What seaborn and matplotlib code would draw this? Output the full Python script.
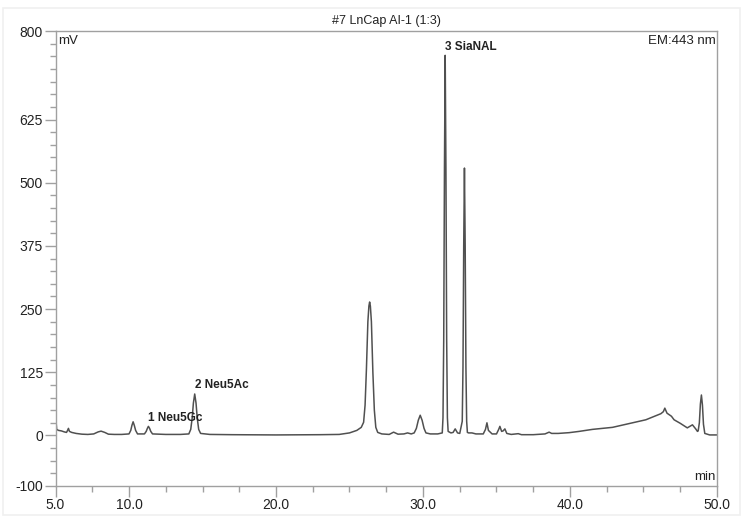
import numpy as np
import pandas as pd
import matplotlib
matplotlib.use("Agg")
import matplotlib.pyplot as plt
import seaborn as sns
from matplotlib.ticker import FixedLocator, MultipleLocator, FixedFormatter
from matplotlib.patches import Rectangle

# ---- data (time in min, signal in mV) ----
time_min = [
    5.00, 5.03, 5.08, 5.20, 5.40, 5.60, 5.75, 5.82, 5.88, 5.95, 6.10, 6.40, 6.80,
    7.20, 7.60, 7.90, 8.10, 8.35, 8.60, 9.00, 9.50, 10.00, 10.12, 10.20, 10.28,
    10.36, 10.45, 10.58, 10.90, 11.05, 11.17, 11.25, 11.32, 11.40, 11.48, 11.60,
    12.50, 13.50, 14.07, 14.20, 14.30, 14.38, 14.47, 14.56, 14.64, 14.74, 14.87,
    15.50, 17.00, 20.00, 23.00, 24.30, 25.00, 25.50, 25.80, 25.96, 26.06, 26.15,
    26.25, 26.32, 26.37, 26.42, 26.49, 26.59, 26.69, 26.79, 26.92, 27.20, 27.70,
    28.00, 28.30, 28.70, 28.95, 29.20, 29.40, 29.55, 29.68, 29.81, 29.94, 30.07,
    30.20, 30.50, 31.00, 31.31, 31.36, 31.41, 31.46, 31.51, 31.56, 31.61, 31.66,
    31.71, 31.90, 32.05, 32.19, 32.35, 32.50, 32.67, 32.72, 32.77, 32.82, 32.87,
    32.92, 32.97, 33.02, 33.10, 33.33, 33.60, 34.10, 34.25, 34.35, 34.45, 34.70,
    35.00, 35.15, 35.23, 35.35, 35.45, 35.57, 35.70, 36.00, 36.48, 36.70, 37.50,
    38.30, 38.58, 38.75, 39.20, 39.94, 40.62, 41.53, 42.89, 44.25, 45.16, 46.18,
    46.35, 46.45, 46.60, 46.90, 47.08, 47.50, 47.98, 48.33, 48.55, 48.67, 48.72,
    48.80, 48.87, 48.94, 49.01, 49.08, 49.17, 49.50, 50.00,
]
signal_mv = [
    55, 30, 12, 10, 9, 7, 6, 10, 14, 8, 6, 4, 2.5,
    2, 3, 7, 8.5, 6, 2.5, 2, 2, 3, 10, 20, 27,
    20, 10, 3, 3, 3, 8, 14, 18, 14, 8, 3,
    2, 2, 3, 12, 35, 64, 82, 64, 35, 12, 4,
    2, 1.5, 1, 1.5, 2, 5, 10, 16, 26, 60, 130,
    225, 256, 264, 256, 225, 125, 50, 16, 6, 3, 2,
    6.5, 2.5, 3, 5, 3, 5, 14, 30, 40, 30, 14,
    5, 3, 3, 5, 35, 190, 530, 752, 530, 190, 35,
    8, 5, 6, 13, 5, 4, 28, 135, 375, 529, 375,
    135, 28, 6, 5, 5, 3, 3, 12, 25, 10, 3,
    3, 12, 18, 8, 9, 13, 4, 2, 3.5, 1.5, 1.5,
    3, 6.5, 4, 4, 5.5, 8, 12, 16, 25, 31, 43,
    47, 54, 44, 38, 31, 24, 15, 21, 13, 8, 9,
    25, 62, 80, 60, 22, 4, 1, 1,
]

x_tick_values = [5, 10, 20, 30, 40, 50]
x_tick_labels = ["5.0", "10.0", "20.0", "30.0", "40.0", "50.0"]
y_tick_values = [-100, 0, 125, 250, 375, 500, 625, 800]
y_tick_labels = ["-100", "0", "125", "250", "375", "500", "625", "800"]

peak_names = ["1 Neu5Gc", "2 Neu5Ac", "3 SiaNAL"]
peak_times = [11.32, 14.47, 31.51]
peak_heights = [18, 82, 752]

title = "#7 LnCap AI-1 (1:3)"

df = pd.DataFrame({"time": time_min, "signal": signal_mv})

# ---- figure ----
sns.set_theme(style="ticks")
plt.rcParams["font.family"] = ["Liberation Sans", "DejaVu Sans"]

fig = plt.figure(figsize=(7.43, 5.18), dpi=100)
ax = fig.add_axes([0.0747, 0.0618, 0.8903, 0.8782])

sns.lineplot(data=df, x="time", y="signal", ax=ax, color="#505050",
             linewidth=1.1, sort=False, estimator=None)

ax.set_xlim(5, 50)
ax.set_ylim(-100, 800)

ax.xaxis.set_major_locator(FixedLocator(x_tick_values))
ax.xaxis.set_major_formatter(FixedFormatter(x_tick_labels))
ax.xaxis.set_minor_locator(MultipleLocator(2.5))
ax.yaxis.set_major_locator(FixedLocator(y_tick_values))
ax.yaxis.set_major_formatter(FixedFormatter(y_tick_labels))
ax.yaxis.set_minor_locator(MultipleLocator(25))

spine_col = "#a0a0a0"
for s in ax.spines.values():
    s.set_visible(True)
    s.set_color(spine_col)
    s.set_linewidth(1.0)

ax.tick_params(axis="both", which="major", direction="out", length=8,
               width=1.0, color=spine_col, labelsize=10, labelcolor="#222222", pad=1)
ax.tick_params(axis="both", which="minor", direction="out", length=4,
               width=1.0, color=spine_col)
ax.set_xlabel("")
ax.set_ylabel("")

ax.set_title(title, fontsize=9, color="#222222", pad=5)

ax.text(0.004, 0.992, "mV", transform=ax.transAxes, ha="left", va="top",
        fontsize=9.5, color="#222222")
ax.text(0.998, 0.992, "EM:443 nm", transform=ax.transAxes, ha="right", va="top",
        fontsize=9.5, color="#222222")
ax.text(0.998, 0.006, "min", transform=ax.transAxes, ha="right", va="bottom",
        fontsize=9.5, color="#222222")

for name, t, h in zip(peak_names, peak_times, peak_heights):
    ax.annotate(name, xy=(t, h), xytext=(0, 2), textcoords="offset points",
                ha="left", va="bottom", fontsize=8.5, fontweight="bold",
                color="#222222")

# faint outer frame seen around the reference image
fig.patches.append(Rectangle((0.004, 0.006), 0.992, 0.978, transform=fig.transFigure,
                             fill=False, edgecolor="#f0f0f0", linewidth=1.2))

fig.savefig("out.png", dpi=100, facecolor="white")
